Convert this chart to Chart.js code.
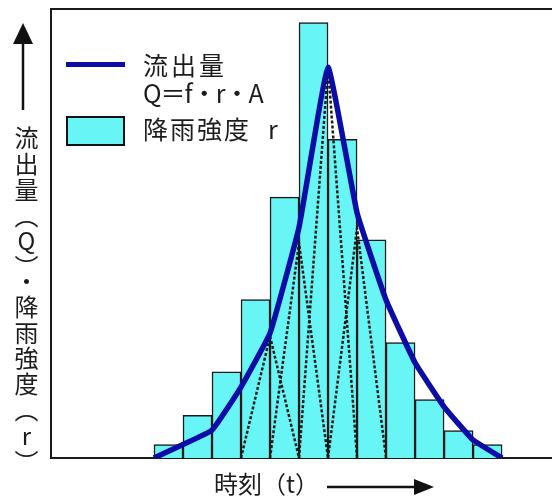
<!DOCTYPE html>
<html lang="ja">
<head>
  <meta charset="UTF-8">
  <title>流出量と降雨強度</title>
  <script src="https://cdn.jsdelivr.net/npm/chart.js@4.4.0/dist/chart.umd.min.js"></script>
  <style>
    body { margin: 0; background: #fff; }
    #wrap { position: relative; width: 552px; height: 503px; overflow: hidden; font-family: "Noto Sans CJK JP", sans-serif; color: #1c1c1c; }
    #chart { position: absolute; left: 0; top: 0; }
    .txt { position: absolute; font-size: 25px; line-height: 25px; white-space: nowrap; }
    #ylabel { position: absolute; left: 13px; top: 126px; font-size: 24px; line-height: 26px; writing-mode: vertical-rl; text-orientation: upright; letter-spacing: 1.8px; }
    #legLine { position: absolute; left: 66px; top: 62px; width: 59px; height: 5px; background: #0c0ca6; }
    #legBox { position: absolute; left: 66px; top: 116px; width: 59px; height: 30px; box-sizing: border-box; border: 2.5px solid #111; background: #68f5f5; }
    svg { position: absolute; left: 0; top: 0; }
  </style>
</head>
<body>
  <div id="wrap">
    <canvas id="chart" width="552" height="503"></canvas>
    <svg width="552" height="503">
      <line x1="23" y1="40" x2="23" y2="110" stroke="#111" stroke-width="2.5"/>
      <polygon points="23,23 13,44 33,44" fill="#111"/>
      <line x1="327" y1="487" x2="416" y2="487" stroke="#111" stroke-width="2.5"/>
      <polygon points="434,487 414,479 414,495" fill="#111"/>
    </svg>
    <div id="legLine"></div>
    <div id="legBox"></div>
    <div class="txt" style="left:143px; top:52px; letter-spacing:3px;">流出量</div>
    <div class="txt" style="left:143px; top:80px; letter-spacing:-1px;">Q＝f・r・A</div>
    <div class="txt" style="left:143px; top:116px; letter-spacing:2px;">降雨強度<span style="margin-left:17px;">r</span></div>
    <div class="txt" style="left:214px; top:471px; font-size:24px; line-height:24px;">時刻（t）</div>
    <div id="ylabel">流出量（Q）・降雨強度（r）</div>
  </div>

  <script>
    // 降雨強度 r (ブロックの中心時刻と高さ)
    const rainTimes = [0.5, 1.5, 2.5, 3.5, 4.5, 5.5, 6.5, 7.5, 8.5, 9.5, 10.5, 11.5];
    const rainfall = [3.0, 9.5, 19.2, 35.3, 58.1, 97.0, 71.0, 48.6, 25.7, 13.0, 6.1, 3.0];

    // 流出量 Q
    const flowTimes = [0, 1, 2, 3, 4, 5, 6, 7, 8, 9, 10, 11, 12];
    const flow = [0, 3.0, 6.2, 15.8, 27.8, 51.4, 87.0, 54.6, 35.2, 21.2, 11.4, 4.0, 0];

    // 三角形単位図 (ピーク時刻とピーク値、底辺は前後1区間)
    const triPeakTimes = [4, 5, 6, 7];
    const triPeaks = [27.1, 47.9, 87.0, 51.2];

    const xMin = -3.55, xMax = 13.72;

    const triSets = triPeakTimes.map((t, i) => ({
      type: "line",
      data: [{ x: t - 1, y: 0 }, { x: t, y: triPeaks[i] }, { x: t + 1, y: 0 }],
      borderColor: "#1a1a1a",
      borderWidth: 2.5,
      borderDash: [3, 2],
      pointRadius: 0,
      tension: 0,
      order: 1
    }));

    const framePlugin = {
      id: "frame",
      beforeDatasetsDraw(chart) {
        const { ctx, chartArea: a } = chart;
        ctx.save();
        ctx.strokeStyle = "#1a1a1a";
        ctx.lineWidth = 2;
        ctx.beginPath();
        ctx.moveTo(a.right, a.top);
        ctx.lineTo(a.left, a.top);
        ctx.lineTo(a.left, a.bottom);
        ctx.lineTo(a.right, a.bottom);
        ctx.stroke();
        ctx.restore();
      }
    };

    new Chart(document.getElementById("chart"), {
      type: "bar",
      data: {
        datasets: [
          {
            type: "line",
            label: "流出量",
            data: flowTimes.map((t, i) => ({ x: t, y: flow[i] })),
            borderColor: "#0c0ca6",
            borderWidth: 5.5,
            pointRadius: 0,
            tension: 0.1,
            order: 0
          },
          ...triSets,
          {
            label: "降雨強度",
            data: rainTimes.map((t, i) => ({ x: t, y: rainfall[i] })),
            backgroundColor: "#68f5f5",
            borderColor: "#1a1a1a",
            borderWidth: 1.5,
            barPercentage: 1,
            categoryPercentage: 1,
            order: 2
          }
        ]
      },
      options: {
        responsive: false,
        animation: false,
        layout: { padding: { left: 51, top: 9, right: 0, bottom: 45 } },
        plugins: { legend: { display: false }, tooltip: { enabled: false } },
        scales: {
          x: { type: "linear", min: xMin, max: xMax, offset: false, display: false },
          y: { min: 0, max: 100, display: false }
        }
      },
      plugins: [framePlugin]
    });
  </script>
</body>
</html>
